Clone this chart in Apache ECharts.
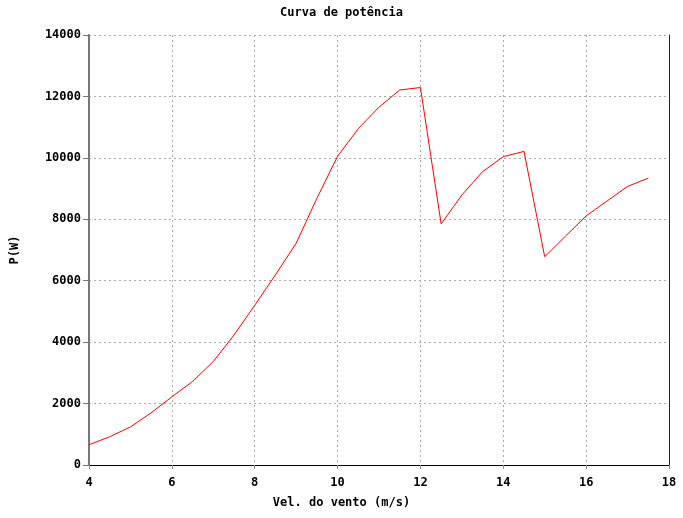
<!DOCTYPE html>
<html><head><meta charset="utf-8">
<script src="https://cdn.jsdelivr.net/npm/echarts@6/dist/echarts.min.js"></script>
<style>html,body{margin:0;padding:0;background:#fff}#c{width:683px;height:518px}</style>
</head><body><div id="c"></div>
<script>
const speeds = [4,4.5,5,5.5,6,6.5,7,7.5,8,8.5,9,9.5,10,10.5,11,11.5,12,12.5,13,13.5,14,14.5,15,15.5,16,16.5,17,17.5];
const power  = [660,920,1240,1700,2220,2720,3370,4230,5200,6190,7220,8680,10050,10950,11650,12210,12290,7850,8790,9550,10040,10210,6780,7450,8110,8590,9070,9340];
const titleText = 'Curva de potência';
const xName = 'Vel. do vento (m/s)';
const yName = 'P(W)';
const font = '"DejaVu Sans Mono", "Liberation Mono", monospace';
const chart = echarts.init(document.getElementById('c'));
chart.setOption({
  animation:false,
  backgroundColor:'#fff',
  grid:{left:89,right:14,top:35,bottom:53,containLabel:false},
  graphic:[
    {type:'text',left:'center',top:7,style:{text:titleText,font:'bold 12px '+font,fill:'#000'}},
    {type:'text',left:'center',top:497,style:{text:xName,font:'bold 12px '+font,fill:'#000'}},
    {type:'text',x:15,y:250,rotation:Math.PI/2,style:{text:yName,font:'bold 12px '+font,fill:'#000',align:'center',verticalAlign:'middle'}}
  ],
  xAxis:{type:'value',min:4,max:18,interval:2,
    axisLine:{onZero:false,lineStyle:{color:'#000',width:1}},
    axisTick:{length:4,lineStyle:{color:'#888'}},
    axisLabel:{color:'#000',fontFamily:font,fontWeight:'bold',fontSize:12,margin:12},
    splitLine:{show:true,lineStyle:{color:'#aaa',type:[2,3]}}},
  yAxis:[{type:'value',min:0,max:14000,interval:2000,
    axisLine:{show:true,lineStyle:{color:'#777',width:2}},
    axisTick:{show:true,length:6,lineStyle:{color:'#777'}},
    axisLabel:{color:'#000',fontFamily:font,fontWeight:'bold',fontSize:12,margin:8,formatter:v=>String(v)},
    splitLine:{show:true,lineStyle:{color:'#aaa',type:[2,3]}}},
    {type:'value',position:'right',min:0,max:14000,interval:2000,
    axisLine:{show:true,lineStyle:{color:'#222',width:1}},
    axisTick:{show:false},axisLabel:{show:false},splitLine:{show:false}}],
  series:[{type:'line',data:speeds.map((s,i)=>[s,power[i]]),showSymbol:false,
    lineStyle:{color:'#ff0000',width:1}}]
});
</script></body></html>
